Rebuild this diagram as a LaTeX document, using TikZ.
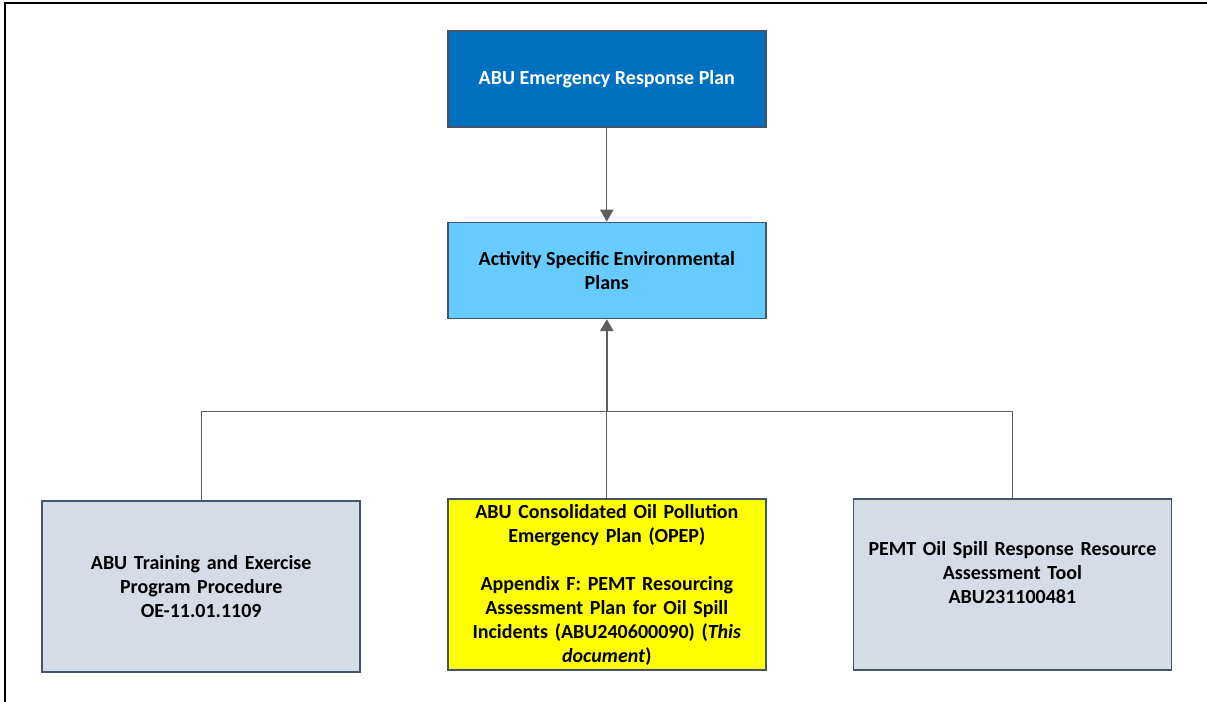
\documentclass[tikz,border=0pt]{standalone}
\usepackage{fontspec}
\setmainfont{Carlito}
\usetikzlibrary{arrows.meta,positioning}

\definecolor{erpblue}{HTML}{0070C0}
\definecolor{aseplblue}{HTML}{66CCFF}
\definecolor{docgray}{HTML}{D6DCE5}
\definecolor{docyellow}{HTML}{FFFF00}
\definecolor{boxedge}{HTML}{44546A}
\definecolor{linkgray}{HTML}{5F5F5F}

\begin{document}
\begin{tikzpicture}
\begin{scope}

\useasboundingbox (0,0) rectangle (905.25pt,-526.5pt);

\tikzstyle{plannode} = [minimum width=238.5pt,minimum height=72pt,line width=1.2pt,draw=boxedge,align=center,inner sep=2pt,font=\fontsize{15pt}{18pt}\selectfont\bfseries];
\tikzstyle{docnode} = [plannode,minimum height=128.25pt,fill=docgray,text width=225pt];
\tikzstyle{busline} = [draw=linkgray,line width=0.8pt];
\tikzstyle{arrowline} = [draw=linkgray,line width=0.9pt,-{Triangle[length=9pt,width=10pt]}];

% page frame
\draw [line width=1.6pt] (3.75pt,-526.5pt) -- (3.75pt,-2.25pt) -- (905.25pt,-2.25pt);

\node [plannode,fill=erpblue,text=white,anchor=north west] (erp) at (335.25pt,-22.5pt) {ABU Emergency Response Plan};
\node [plannode,fill=aseplblue,anchor=north] (asep) at ([yshift=-70.5pt]erp.south) {Activity Specific Environmental\\Plans};

\node [docnode,fill=docyellow,anchor=north] (opep) at ([yshift=-134.25pt]asep.south) {ABU Consolidated Oil Pollution\\Emergency Plan (OPEP)\\[18pt]Appendix F: PEMT Resourcing\\Assessment Plan for Oil Spill\\Incidents (ABU240600090) (\textit{This}\\\textit{document})};
\node [docnode,anchor=north east] (tep) at ([xshift=-64.5pt,yshift=-1.5pt]opep.north west) {ABU Training and Exercise\\Program Procedure\\OE-11.01.1109};
\node [docnode,anchor=north west] (tool) at ([xshift=64.5pt]opep.north east) {PEMT Oil Spill Response Resource\\Assessment Tool\\ABU231100481\\\phantom{A}};

\coordinate (bus) at ([yshift=-69pt]asep.south);

\draw [arrowline] (erp.south) -- (asep.north);
\draw [busline] (tep.north) |- (bus) -| (tool.north);
\draw [busline] (opep.north) -- (bus);
\draw [arrowline,line width=1.4pt] (bus) -- (asep.south);

\end{scope}
\end{tikzpicture}
\end{document}
